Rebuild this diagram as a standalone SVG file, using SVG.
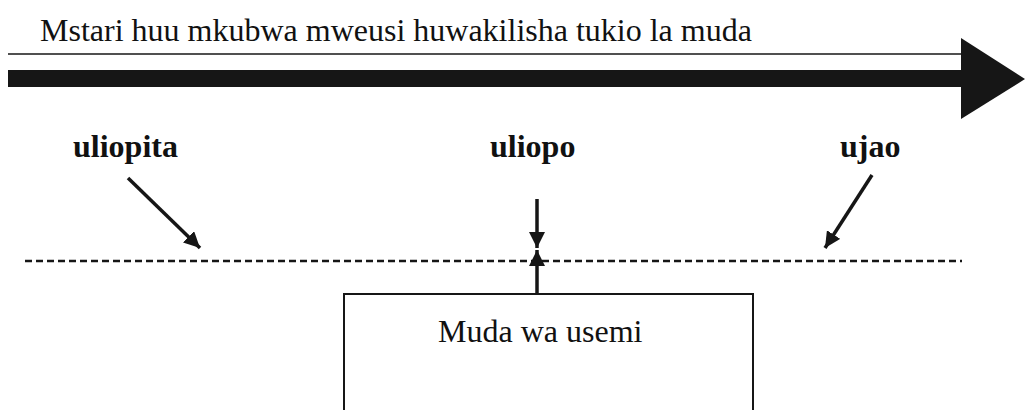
<svg xmlns="http://www.w3.org/2000/svg" width="1025" height="410" viewBox="0 0 1025 410">
<style>
.t{font-family:"Liberation Serif","Times New Roman",serif;font-size:32px;fill:#111}
.b{font-weight:bold}
.ln{stroke:#161616;fill:none}
</style>
<defs>
<marker id="ah" viewBox="0 0 10 10" refX="10" refY="5" markerWidth="16" markerHeight="16" orient="auto" markerUnits="userSpaceOnUse">
<path d="M0,0 L10,5 L0,10 Z" fill="#161616"/>
</marker>
</defs>
<rect width="1025" height="410" fill="#fff"/>
<g id="timeline">
<text class="t" x="40" y="41">Mstari huu mkubwa mweusi huwakilisha tukio la muda</text>
<line class="ln" x1="8" y1="54" x2="962" y2="54" stroke-width="1.5"/>
<rect x="8" y="70" width="954" height="17" fill="#161616"/>
<polygon points="961,38 1025,79 961,119" fill="#161616"/>
</g>
<g id="label-uliopita"><text class="t b" x="73" y="157">uliopita</text></g>
<g id="label-uliopo"><text class="t b" x="490" y="157">uliopo</text></g>
<g id="label-ujao"><text class="t b" x="840" y="157">ujao</text></g>
<g id="dashed-line">
<line class="ln" x1="25" y1="261" x2="962" y2="261" stroke-width="2.3" stroke-dasharray="7 4"/>
</g>
<g id="box">
<rect x="344" y="294" width="409" height="130" fill="#fff" stroke="#161616" stroke-width="2"/>
<text class="t" x="438" y="342">Muda wa usemi</text>
</g>
<g id="connectors">
<line class="ln" x1="128" y1="178" x2="200" y2="248" stroke-width="3.5" marker-end="url(#ah)"/>
<line class="ln" x1="872" y1="175" x2="825" y2="248" stroke-width="3.5" marker-end="url(#ah)"/>
<line class="ln" x1="537" y1="199" x2="537" y2="248" stroke-width="3.5" marker-end="url(#ah)"/>
<line class="ln" x1="537" y1="294" x2="537" y2="250" stroke-width="3.5" marker-end="url(#ah)"/>
</g>
</svg>
